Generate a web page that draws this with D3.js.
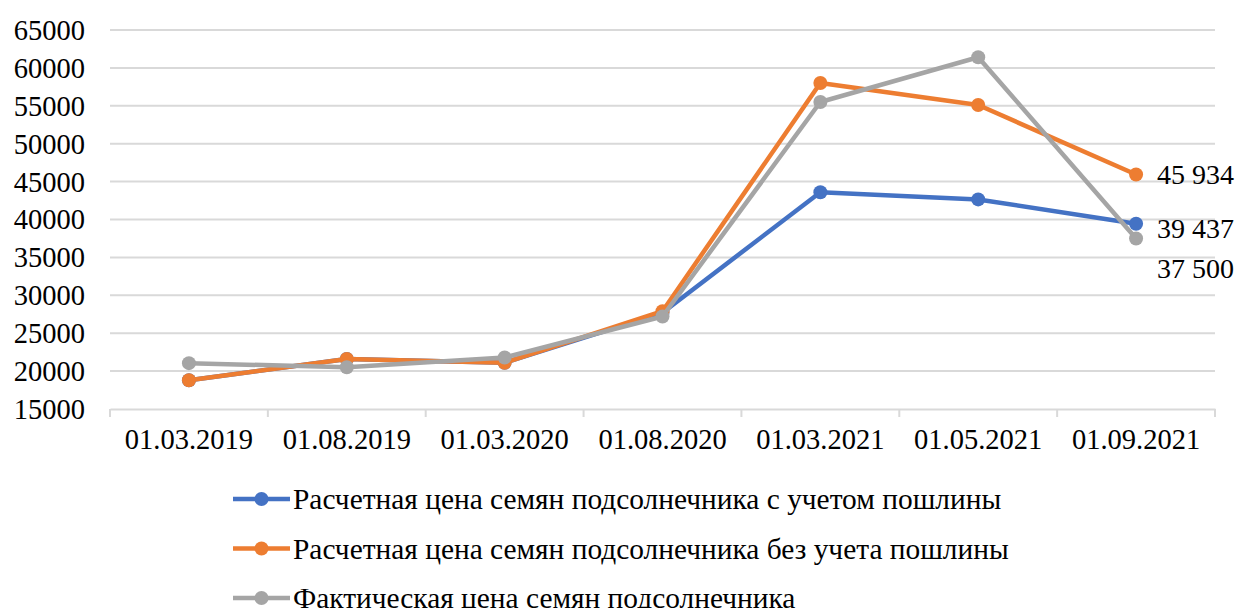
<!DOCTYPE html>
<html>
<head>
<meta charset="utf-8">
<script src="https://cdn.jsdelivr.net/npm/d3@7"></script>
<style>
  body { margin: 0; background: #fff; }
</style>
</head>
<body>
<div id="chart"></div>
<script>
var dates = ["01.03.2019", "01.08.2019", "01.03.2020", "01.08.2020", "01.03.2021", "01.05.2021", "01.09.2021"];
var withDuty = [18800, 21600, 21100, 27700, 43600, 42650, 39437];
var withoutDuty = [18800, 21600, 21100, 27900, 58000, 55100, 45934];
var actual = [21050, 20500, 21800, 27200, 55500, 61400, 37500];
var seriesNames = [
  "Расчетная цена семян подсолнечника с учетом пошлины",
  "Расчетная цена семян подсолнечника без учета пошлины",
  "Фактическая цена семян подсолнечника"
];
var colors = ["#4472C4", "#ED7D31", "#A5A5A5"];
var yTicks = [15000, 20000, 25000, 30000, 35000, 40000, 45000, 50000, 55000, 60000, 65000];

var series = [withDuty, withoutDuty, actual];
var width = 1238, height = 608;
var plotLeft = 110, plotRight = 1215, plotTop = 30, plotBottom = 409;
var serif = "Liberation Serif";

var svg = d3.select("#chart").append("svg")
  .attr("width", width)
  .attr("height", height)
  .attr("font-family", serif);

var xScale = d3.scaleBand().domain(dates).range([plotLeft, plotRight]);
var yScale = d3.scaleLinear().domain([15000, 65000]).range([plotBottom, plotTop]);

// grid
svg.append("g")
  .selectAll("line")
  .data(yTicks.slice(1))
  .enter()
  .append("line")
  .attr("x1", plotLeft).attr("x2", plotRight)
  .attr("y1", d => yScale(d)).attr("y2", d => yScale(d))
  .attr("stroke", "#d9d9d9")
  .attr("stroke-width", 2);

// y labels
svg.append("g")
  .selectAll("text")
  .data(yTicks)
  .enter()
  .append("text")
  .attr("x", 85)
  .attr("y", d => yScale(d))
  .attr("dy", "0.35em")
  .attr("text-anchor", "end")
  .attr("font-family", serif)
  .attr("font-size", 28.5)
  .attr("fill", "#000")
  .text(d => d);

// x axis
var xAxis = d3.axisBottom(xScale).tickSize(0).tickPadding(20);
var gx = svg.append("g").attr("transform", `translate(0, ${plotBottom})`).call(xAxis);
gx.attr("font-family", serif).attr("font-size", 28.5);
gx.select(".domain").attr("stroke", "#d9d9d9").attr("stroke-width", 2);
gx.selectAll("text")
  .attr("font-family", serif)
  .attr("font-size", 28.5)
  .attr("fill", "#000");
svg.append("g")
  .selectAll("line")
  .data(dates.concat(["end"]))
  .enter()
  .append("line")
  .attr("x1", (d, i) => plotLeft + i * xScale.bandwidth())
  .attr("x2", (d, i) => plotLeft + i * xScale.bandwidth())
  .attr("y1", plotBottom).attr("y2", plotBottom + 8)
  .attr("stroke", "#d9d9d9")
  .attr("stroke-width", 2);

var line = d3.line()
  .x((d, i) => xScale(dates[i]) + xScale.bandwidth() / 2)
  .y(d => yScale(d));

series.forEach(function(vals, s) {
  svg.append("path")
    .datum(vals)
    .attr("fill", "none")
    .attr("stroke", colors[s])
    .attr("stroke-width", 4.5)
    .attr("stroke-linejoin", "round")
    .attr("d", line);
  svg.append("g")
    .selectAll("circle")
    .data(vals)
    .enter()
    .append("circle")
    .attr("cx", (d, i) => xScale(dates[i]) + xScale.bandwidth() / 2)
    .attr("cy", d => yScale(d))
    .attr("r", 7)
    .attr("fill", colors[s]);
});

// end labels
var labelOffsets = [4, 0, 30];
series.forEach(function(vals, s) {
  var last = vals[vals.length - 1];
  svg.append("text")
    .attr("x", xScale(dates[6]) + xScale.bandwidth() / 2 + 21)
    .attr("y", yScale(last) + labelOffsets[s])
    .attr("dy", "0.35em")
    .attr("font-family", serif)
    .attr("font-size", 28)
    .attr("fill", "#000")
    .text(d3.format(",")(last).replace(",", " "));
});

// legend
var legend = svg.append("g")
  .selectAll("g")
  .data(seriesNames)
  .enter()
  .append("g")
  .attr("transform", (d, i) => `translate(233, ${499 + i * 49.5})`);
legend.append("line")
  .attr("x1", 0).attr("x2", 57)
  .attr("stroke", (d, i) => colors[i])
  .attr("stroke-width", 4.5);
legend.append("circle")
  .attr("cx", 28.5).attr("r", 7)
  .attr("fill", (d, i) => colors[i]);
legend.append("text")
  .attr("x", 60)
  .attr("dy", "0.35em")
  .attr("font-family", serif)
  .attr("font-size", 29.4)
  .attr("fill", "#000")
  .text(d => d);
</script>
</body>
</html>
